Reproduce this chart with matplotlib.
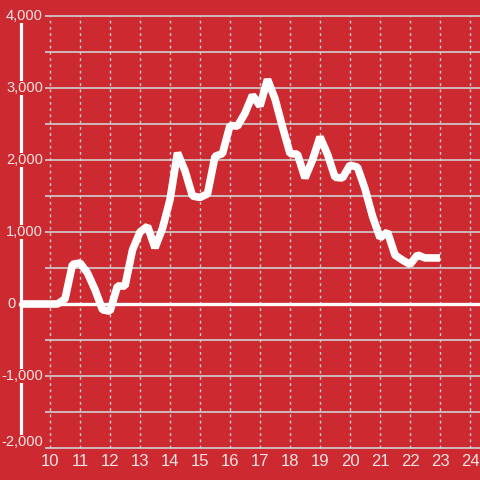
import numpy as np
import matplotlib
matplotlib.use("Agg")
import matplotlib.pyplot as plt

# ── data ─────────────────────────────────────────────────────
x_vals = [9.0, 9.25, 9.5, 9.75, 10.0, 10.25, 10.5, 10.75, 11.0, 11.25, 11.5,
          11.75, 12.0, 12.25, 12.5, 12.75, 13.0, 13.25, 13.5, 13.75, 14.0,
          14.25, 14.5, 14.75, 15.0, 15.25, 15.5, 15.75, 16.0, 16.25, 16.5,
          16.75, 17.0, 17.25, 17.5, 17.75, 18.0, 18.25, 18.5, 18.75, 19.0,
          19.25, 19.5, 19.75, 20.0, 20.25, 20.5, 20.75, 21.0, 21.25, 21.5,
          21.75, 22.0, 22.25, 22.5, 22.75, 23.0]
y_vals = [0, 0, 0, 0, 0, 0, 70, 550, 570, 430, 200,
          -80, -100, 250, 250, 750, 1000, 1080, 780, 1050, 1450,
          2100, 1850, 1500, 1480, 1530, 2050, 2090, 2480, 2470, 2650,
          2900, 2750, 3120, 2850, 2460, 2090, 2080, 1750, 2000, 2320,
          2080, 1760, 1750, 1930, 1900, 1600, 1220, 920, 1000, 680,
          610, 550, 680, 640, 640, 640]
x_ticks = list(range(10, 25))
y_ticks = [-2000, -1000, 0, 1000, 2000, 3000, 4000]
y_grid = np.arange(-2000, 4001, 500)

BG = "#cc2a30"
GRID = "#d0d0d0"
TXT = "#f4e4e4"

fig = plt.figure(figsize=(4.8, 4.8), dpi=100, facecolor=BG)
ax = fig.add_axes([0, 0, 1, 1], facecolor=BG)
# pixel mapping: x=10 -> 50px, 30px per unit; y=4000 -> 16px, 72px per 1000
ax.set_xlim(10 - 50 / 30, 10 + 430 / 30)
ax.set_ylim(-2000 - 32 / 72 * 1000, 4000 + 16 / 72 * 1000)
ax.axis("off")

# grid
ax.hlines(y_grid, 10 - 5 / 30, 10 + 430 / 30, color=GRID, lw=1.2, zorder=1)
ax.vlines(x_ticks, -2000, 4000, color=GRID, lw=1.0, linestyles=(0, (2, 2.5)), zorder=1)

# left axis and zero line
ax.plot([9.03, 9.03], [-2000, 4000], color="white", lw=2.3, zorder=2, solid_capstyle="butt")
ax.plot([9.0, 10 + 430 / 30], [0, 0], color="white", lw=2.4, zorder=2)

# data
ax.plot(x_vals, y_vals, color="white", lw=5.5, zorder=4,
        solid_joinstyle="bevel", solid_capstyle="butt")

# tick labels
for v in y_ticks:
    yy = v if v != -2000 else v + 80
    xx = 10 - 7 / 30 if v != 0 else 10 - 34 / 30
    ax.text(xx, yy, f"{v:,}", ha="right", va="center", fontsize=10.5,
            color=TXT, family="Liberation Sans", zorder=5,
            bbox=dict(facecolor=BG, edgecolor="none", pad=0.3))
for v in x_ticks:
    ax.text(v, -2000 - 13 / 72 * 1000, str(v), ha="center", va="center",
            fontsize=12, color=TXT, family="Liberation Sans", zorder=5)

fig.savefig("out.png", dpi=100, facecolor=BG)
